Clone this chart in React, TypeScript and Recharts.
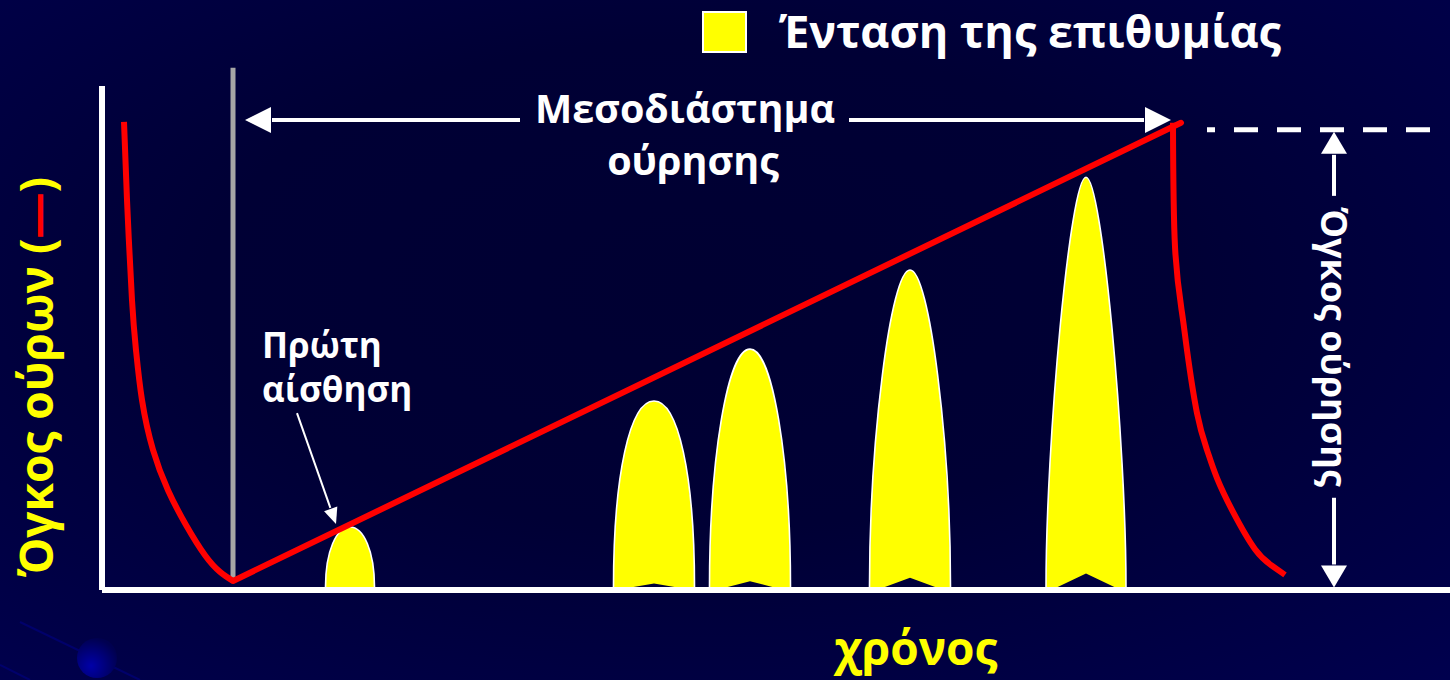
import React from 'react';
import { ComposedChart, Line, XAxis, YAxis, ReferenceLine, ReferenceArea } from 'recharts';

// time in arbitrary units (0..134.8), bladder volume in % (0..100)
const emptyingTime = [2.2, 2.5, 3.0, 3.4, 4.0, 5.1, 6.6, 8.4, 10.3, 11.8, 13.1];
const emptyingVolume = [92.9, 77.4, 57.5, 47.6, 37.7, 27.8, 19.8, 12.9, 6.9, 3.6, 1.8];

const fillingTime = [13.1, 107.9];
const fillingVolume = [1.8, 92.7];

const voidingTime = [107.1, 107.3, 108.0, 108.5, 109.5, 110.5, 111.5, 113.1, 115.3, 117.0, 118.3];
const voidingVolume = [92.7, 68.1, 55.0, 47.6, 35.1, 27.8, 22.2, 15.5, 8.1, 4.8, 3.0];

// urge episodes: centre time, peak intensity, duration
const urgeTime = [24.8, 55.2, 64.8, 80.8, 98.4];
const urgeIntensity = [12.5, 37.5, 47.8, 63.5, 81.9];
const urgeSpread = [4.9, 8.1, 8.1, 8.1, 8.0];

// annotation anchors
const voidMoment = 13.1;
const voidedVolume = 91.3;
const intervalLevel = 93.25;

const FONT = '"Open Sans", "DejaVu Sans", sans-serif';
const RED = '#ff0000';
const YELLOW = '#ffff00';

const toRows = (t: number[], v: number[]) => t.map((x, i) => ({ t: x, v: v[i] }));

const emptying = toRows(emptyingTime, emptyingVolume);
const filling = toRows(fillingTime, fillingVolume);
const voiding = toRows(voidingTime, voidingVolume);
const urges = urgeTime.map((t, i) => ({ t, peak: urgeIntensity[i], spread: urgeSpread[i] }));

// bell drawn inside the box the library computes for each urge episode
const renderBell = (props: any) => {
  const { x, y, width, height } = props;
  if (!height || height <= 0) return null;
  const hw = width / 2;
  const cx = x + hw;
  const x0 = x;
  const x1 = x + width;
  const yb = y + height - 3;
  const h = yb - y;
  // taller bells taper more
  const k = Math.max(0, Math.min(1, (h - 186) / 224));
  const a = h < 186 ? 0.6 : 0.6 - 0.25 * k;
  const b = h < 186 ? 0.45 : 0.4 + 0.2 * k;
  const arch = `M${x0},${yb} C${x0},${yb - a * h} ${x0 + b * hw},${y} ${cx},${y} C${x1 - b * hw},${y} ${x1},${yb - a * h} ${x1},${yb}`;
  const nd = Math.max(0, (h - 110) * 0.045);
  const nh = 14 + h * 0.035;
  const body = nd > 0 ? `${arch} L${cx + nh},${yb} L${cx},${yb - nd} L${cx - nh},${yb} Z` : `${arch} Z`;
  return (
    <g>
      <path d={body} fill={YELLOW} stroke="none" />
      <path d={arch} fill="none" stroke="#ffffff" strokeWidth={1.6} />
    </g>
  );
};

const arrowShape = (head: 'start' | 'end', len: number, half: number) => (p: any) => {
  const { x1, y1, x2, y2, stroke, strokeWidth } = p;
  const dx = x2 - x1;
  const dy = y2 - y1;
  const L = Math.hypot(dx, dy) || 1;
  const ux = dx / L;
  const uy = dy / L;
  const tipX = head === 'end' ? x2 : x1;
  const tipY = head === 'end' ? y2 : y1;
  const dir = head === 'end' ? 1 : -1;
  const bx = tipX - dir * ux * len;
  const by = tipY - dir * uy * len;
  const pts = `${tipX},${tipY} ${bx - uy * half},${by + ux * half} ${bx + uy * half},${by - ux * half}`;
  const sx = head === 'start' ? bx + ux : x1;
  const sy = head === 'start' ? by + uy : y1;
  const ex = head === 'end' ? bx - ux : x2;
  const ey = head === 'end' ? by - uy : y2;
  return (
    <g>
      <line x1={sx} y1={sy} x2={ex} y2={ey} stroke={stroke} strokeWidth={strokeWidth} />
      <polygon points={pts} fill={stroke} />
    </g>
  );
};

export default function App() {
  return (
    <div
      style={{
        position: 'absolute',
        left: 0,
        top: 0,
        width: 1450,
        height: 680,
        overflow: 'hidden',
        background: 'radial-gradient(ellipse 75% 80% at 48% 42%, #000032 0%, #000035 45%, #00004e 100%)',
      }}
    >
      <svg width={1450} height={680} style={{ position: 'absolute', left: 0, top: 0 }}>
        <defs>
          <radialGradient id="planet" cx="35%" cy="70%" r="70%">
            <stop offset="0%" stopColor="#0000a8" />
            <stop offset="100%" stopColor="#000050" />
          </radialGradient>
        </defs>
        <line x1={20} y1={622} x2={140} y2={680} stroke="#00007a" strokeWidth={2} opacity={0.7} />
        <line x1={0} y1={665} x2={30} y2={680} stroke="#00007a" strokeWidth={2} opacity={0.7} />
        <circle cx={97} cy={658} r={20} fill="url(#planet)" />
      </svg>
      <ComposedChart
        width={1450}
        height={680}
        margin={{ top: 86, right: 0, bottom: 60, left: 72 }}
        style={{ position: 'absolute', left: 0, top: 0 }}
      >
        <XAxis
          type="number"
          dataKey="t"
          domain={[0, 134.8]}
          allowDataOverflow
          height={30}
          tick={false}
          tickLine={false}
          axisLine={{ stroke: '#ffffff', strokeWidth: 6 }}
        />
        <YAxis
          type="number"
          domain={[0, 100]}
          allowDataOverflow
          width={30}
          tick={false}
          tickLine={false}
          axisLine={{ stroke: '#ffffff', strokeWidth: 6 }}
        />
        <ReferenceLine
          segment={[{ x: voidMoment, y: 1.5 }, { x: voidMoment, y: 103.6 }]}
          stroke="#a6a6a6"
          strokeWidth={5}
          ifOverflow="visible"
        />
        {urges.map((u) => (
          <ReferenceArea
            key={u.t}
            x1={u.t - u.spread / 2}
            x2={u.t + u.spread / 2}
            y1={0}
            y2={u.peak}
            ifOverflow="visible"
            shape={renderBell}
          />
        ))}
        <Line data={emptying} dataKey="v" type="natural" stroke={RED} strokeWidth={6} dot={false} activeDot={false} isAnimationActive={false} />
        <Line data={filling} dataKey="v" type="linear" stroke={RED} strokeWidth={6} strokeLinecap="round" dot={false} activeDot={false} isAnimationActive={false} />
        <Line data={voiding} dataKey="v" type="natural" stroke={RED} strokeWidth={6} dot={false} activeDot={false} isAnimationActive={false} />

        {/* interval between voids */}
        <ReferenceLine
          segment={[{ x: 14.3, y: intervalLevel }, { x: 41.8, y: intervalLevel }]}
          stroke="#ffffff"
          strokeWidth={4}
          ifOverflow="visible"
          shape={arrowShape('start', 26, 13)}
        />
        <ReferenceLine
          segment={[{ x: 74.7, y: intervalLevel }, { x: 106.9, y: intervalLevel }]}
          stroke="#ffffff"
          strokeWidth={4}
          ifOverflow="visible"
          shape={arrowShape('end', 26, 13)}
        />

        {/* voided volume */}
        <ReferenceLine
          segment={[{ x: 110.5, y: voidedVolume }, { x: 132.8, y: voidedVolume }]}
          stroke="#ffffff"
          strokeWidth={5}
          strokeDasharray="8 19 24 19 24 19 24 19 24 19 24"
          ifOverflow="visible"
        />
        <ReferenceLine
          segment={[{ x: 123.2, y: 90.9 }, { x: 123.2, y: 78.2 }]}
          stroke="#ffffff"
          strokeWidth={4}
          ifOverflow="visible"
          shape={arrowShape('start', 22, 13)}
        />
        <ReferenceLine
          segment={[{ x: 123.2, y: 18.3 }, { x: 123.2, y: 0.5 }]}
          stroke="#ffffff"
          strokeWidth={4}
          ifOverflow="visible"
          shape={arrowShape('end', 22, 13)}
        />

        {/* first sensation */}
        <ReferenceLine
          segment={[{ x: 19.5, y: 35.1 }, { x: 23.4, y: 13.1 }]}
          stroke="#ffffff"
          strokeWidth={2}
          ifOverflow="visible"
          shape={arrowShape('end', 16, 7)}
        />

        <g fontFamily={FONT} fontWeight={700}>
          <rect x={703} y={12} width={43} height={40} fill={YELLOW} stroke="#ffffff" strokeWidth={2} />
          <text x={779} y={48} fill="#ffffff" fontSize={45}>Ένταση της επιθυμίας</text>

          <text x={685} y={123} fill="#ffffff" fontSize={39.5} textAnchor="middle">Μεσοδιάστημα</text>
          <text x={693} y={175} fill="#ffffff" fontSize={39.5} textAnchor="middle">ούρησης</text>

          <text x={262} y={358} fill="#ffffff" fontSize={35}>Πρώτη</text>
          <text x={262} y={402} fill="#ffffff" fontSize={35}>αίσθηση</text>

          <text
            x={1321}
            y={347}
            fill="#ffffff"
            fontSize={36}
            textAnchor="middle"
            transform="rotate(90 1321 347)"
          >
            Όγκος ούρησης
          </text>

          <text
            x={53}
            y={377}
            fill={YELLOW}
            fontSize={46}
            textAnchor="middle"
            transform="rotate(-90 53 377)"
          >
            Όγκος ούρων (<tspan fill={RED}>—</tspan>)
          </text>

          <text x={916} y={665} fill={YELLOW} fontSize={46} textAnchor="middle">χρόνος</text>
        </g>
      </ComposedChart>
    </div>
  );
}
